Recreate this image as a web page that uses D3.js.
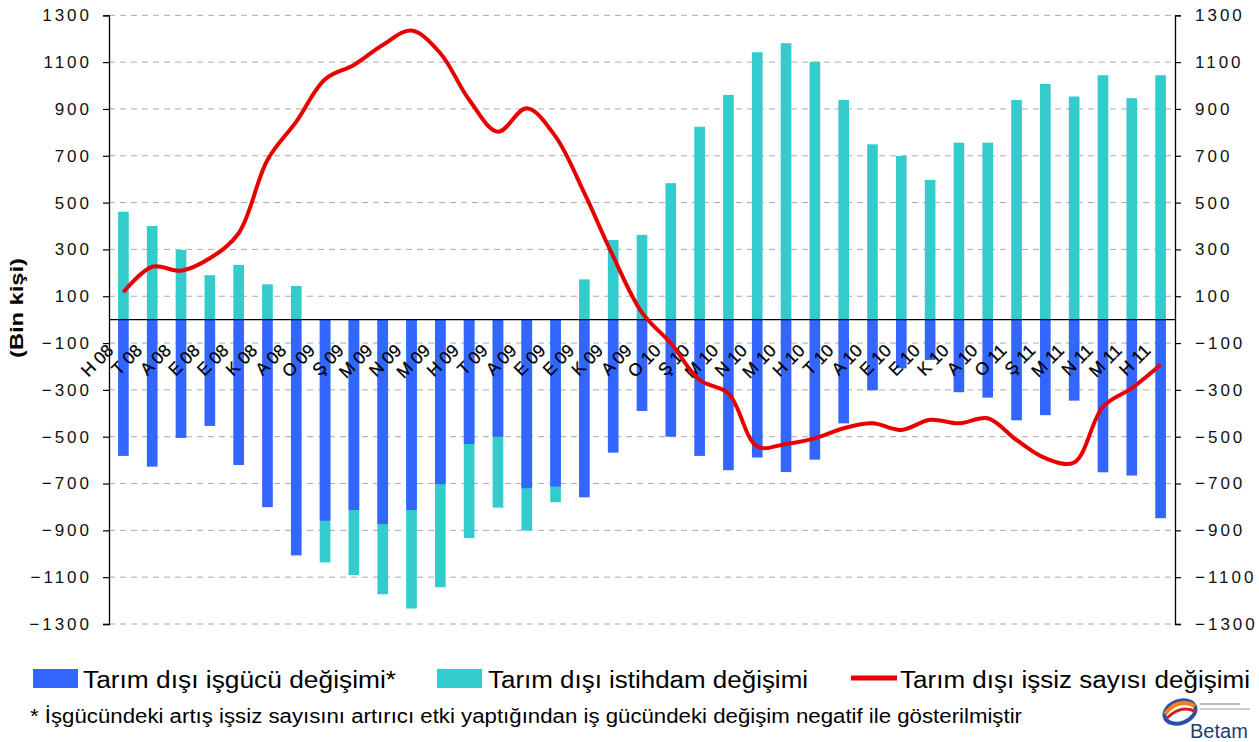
<!DOCTYPE html>
<html><head><meta charset="utf-8">
<script src="https://cdn.jsdelivr.net/npm/d3@7"></script>
<style>
html,body{margin:0;padding:0;background:#fff;}
svg{display:block;font-family:"Liberation Sans",Arial,sans-serif;}
</style></head>
<body>
<svg id="chart" width="1259" height="742"></svg>
<script>
const categories = ["H 08","T 08","A 08","E 08","E 08","K 08","A 08","O 09","Ş 09","M 09","N 09","M 09","H 09","T 09","A 09","E 09","E 09","K 09","A 09","O 10","Ş 10","M 10","N 10","M 10","H 10","T 10","A 10","E 10","E 10","K 10","A 10","O 11","Ş 11","M 11","N 11","M 11","H 11"];
const isgucuDegisimi = [-582,-628,-505,-454,-621,-801,-1007,-859,-813,-873,-813,-703,-531,-500,-720,-713,-759,-568,-390,-500,-582,-643,-589,-651,-598,-443,-302,-208,-172,-310,-333,-430,-408,-346,-652,-666,-848];
const istihdamDegisimi = [461,400,298,190,234,151,144,-1037,-1091,-1173,-1234,-1143,-933,-803,-901,-780,172,340,362,583,824,960,1142,1181,1101,938,749,699,597,756,756,938,1007,953,1044,946,1044];
const issizDegisimi = [117,226,209,262,369,682,846,1027,1088,1173,1235,1138,939,803,903,782,540,270,30,-101,-258,-315,-542,-531,-507,-464,-443,-471,-428,-443,-421,-514,-592,-610,-372,-293,-193];
const tickValues = [1300,1100,900,700,500,300,100,-100,-300,-500,-700,-900,-1100,-1300];
const seriesNames = ["Tarım dışı işgücü değişimi*","Tarım dışı istihdam değişimi","Tarım dışı işsiz sayısı değişimi"];
const yTitle = "(Bin kişi)";
const footnote = "* İşgücündeki artış işsiz sayısını artırıcı etki yaptığından iş gücündeki değişim negatif ile gösterilmiştir";

const colBlue = "#3366ff", colTeal = "#33cccc", colRed = "#e80000";
const L = 109, R = 1175, T = 15.3, B = 624;
const svg = d3.select("#chart");

const x = d3.scaleBand().domain(d3.range(categories.length)).range([L, R]).paddingInner(0.63).paddingOuter(0.315);
const y = d3.scaleLinear().domain([-1300, 1300]).range([B, T]);
const cx = i => x(i) + x.bandwidth() / 2;

// grid
svg.append("g").selectAll("line").data(tickValues).join("line")
  .attr("x1", L).attr("x2", R).attr("y1", d => y(d)).attr("y2", d => y(d))
  .attr("stroke", "#aaa").attr("stroke-width", 1).attr("stroke-dasharray", "6,5");

// teal bars (behind)
svg.append("g").selectAll("rect").data(istihdamDegisimi).join("rect")
  .attr("x", (d, i) => x(i)).attr("width", x.bandwidth())
  .attr("y", d => y(Math.max(0, d))).attr("height", d => Math.abs(y(d) - y(0)))
  .attr("fill", colTeal);
// blue bars (front)
svg.append("g").selectAll("rect").data(isgucuDegisimi).join("rect")
  .attr("x", (d, i) => x(i)).attr("width", x.bandwidth())
  .attr("y", d => y(Math.max(0, d))).attr("height", d => Math.abs(y(d) - y(0)))
  .attr("fill", colBlue);

// zero line
svg.append("line").attr("x1", L).attr("x2", R).attr("y1", y(0)).attr("y2", y(0))
  .attr("stroke", "#000").attr("stroke-width", 1.2);

// category labels
svg.append("g").selectAll("text").data(categories).join("text")
  .attr("transform", (d, i) => `translate(${cx(i) - 9},${y(0) + 32}) rotate(-45)`)
  .attr("text-anchor", "end").attr("font-size", 17.5).attr("fill", "#000")
  .attr("stroke", "#000").attr("stroke-width", 0.25)
  .text(d => d);

// axes
const yAxisL = d3.axisLeft(y).tickValues(tickValues).tickSize(6).tickPadding(14).tickFormat(d3.format("d"));
const yAxisR = d3.axisRight(y).tickValues(tickValues).tickSize(6).tickPadding(14).tickFormat(d3.format("d"));
const gL = svg.append("g").attr("transform", `translate(${L},0)`).call(yAxisL);
const gR = svg.append("g").attr("transform", `translate(${R},0)`).call(yAxisR);
[gL, gR].forEach(g => {
  g.select(".domain").attr("stroke", "#000").attr("stroke-width", 1.3);
  g.selectAll(".tick line").attr("stroke", "#000").attr("stroke-width", 1.2);
  g.selectAll(".tick text").attr("font-size", 17).attr("fill", "#111")
    .attr("font-family", "'Liberation Sans',Arial,sans-serif").attr("letter-spacing", "3px");
});
gL.selectAll(".tick text").attr("dx", "3px");

// red line
const line = d3.line().x((d, i) => cx(i)).y(d => y(d)).curve(d3.curveCatmullRom.alpha(0.5));
svg.append("path").datum(issizDegisimi).attr("d", line)
  .attr("fill", "none").attr("stroke", colRed).attr("stroke-width", 4).attr("stroke-linejoin", "round");

// y title
svg.append("text").attr("transform", "translate(23,308) rotate(-90)")
  .attr("text-anchor", "middle").attr("font-weight", "bold").attr("font-size", 18)
  .attr("textLength", 100).attr("lengthAdjust", "spacingAndGlyphs").text(yTitle);

// legend
const lg = svg.append("g");
const legendItems = [
  {name: seriesNames[0], type: "rect", color: colBlue, sx: 33, tx: 83, tw: 313},
  {name: seriesNames[1], type: "rect", color: colTeal, sx: 437, tx: 488, tw: 320},
  {name: seriesNames[2], type: "line", color: colRed, sx: 851, tx: 900, tw: 350}
];
legendItems.forEach(it => {
  if (it.type === "rect") {
    lg.append("rect").attr("x", it.sx).attr("y", 669).attr("width", 45).attr("height", 19).attr("fill", it.color);
  } else {
    lg.append("line").attr("x1", it.sx).attr("x2", it.sx + 46).attr("y1", 678).attr("y2", 678)
      .attr("stroke", it.color).attr("stroke-width", 5);
  }
  lg.append("text").attr("x", it.tx).attr("y", 688).attr("font-size", 23)
    .attr("textLength", it.tw).attr("lengthAdjust", "spacingAndGlyphs").attr("fill", "#000").text(it.name);
});
svg.append("text").attr("x", 30).attr("y", 723).attr("font-size", 20)
  .attr("textLength", 992).attr("lengthAdjust", "spacingAndGlyphs").attr("fill", "#000").text(footnote);

// logo (approximation)
const logo = svg.append("g").attr("transform", "translate(1180,712)");
logo.append("ellipse").attr("rx", 16).attr("ry", 11).attr("fill", "none").attr("stroke", "#2b4fa8").attr("stroke-width", 4).attr("transform", "rotate(-20)");
logo.append("path").attr("d", "M-15,2 Q-2,-15 15,-6").attr("fill", "none").attr("stroke", "#f08020").attr("stroke-width", 4);
logo.append("path").attr("d", "M-13,6 Q2,-8 16,0").attr("fill", "none").attr("stroke", "#d02020").attr("stroke-width", 3);
svg.append("rect").attr("x", 1200).attr("y", 703).attr("width", 40).attr("height", 2).attr("fill", "#bbb");
svg.append("rect").attr("x", 1200).attr("y", 708).attr("width", 50).attr("height", 2).attr("fill", "#ccc");
svg.append("text").attr("x", 1190).attr("y", 738).attr("font-size", 20).attr("fill", "#1d3a7a").text("Betam");
</script>
</body></html>
